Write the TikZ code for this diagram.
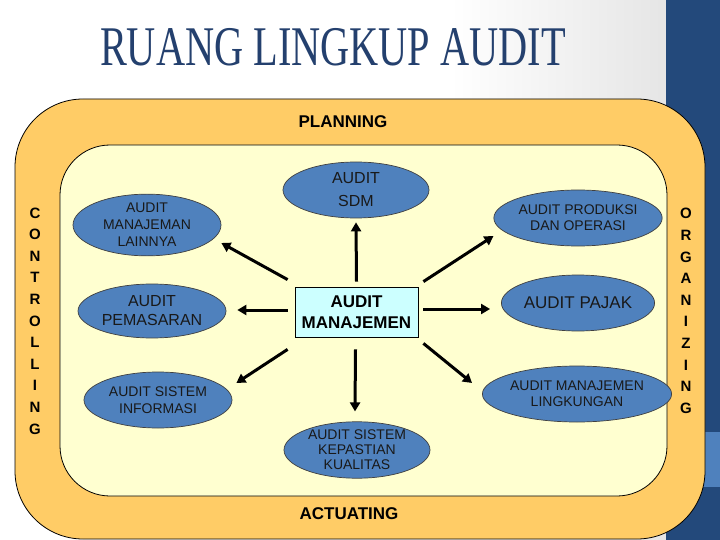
\documentclass[tikz,border=0pt]{standalone}
\usepackage{fontspec}
\usepackage{graphicx}
\setmainfont{Liberation Sans}
\newfontfamily\titlefont{Liberation Serif}
\usetikzlibrary{shapes.geometric,arrows.meta,calc}
\definecolor{outerc}{RGB}{255,204,102}
\definecolor{innerc}{RGB}{255,255,208}
\definecolor{ellc}{RGB}{79,129,189}
\definecolor{boxc}{RGB}{204,255,255}
\definecolor{barc}{RGB}{35,73,123}
\definecolor{bandc}{RGB}{79,129,189}
\definecolor{titlec}{RGB}{36,64,110}
\tikzset{
  oval/.style={ellipse, draw=black!75, line width=0.7pt, fill=ellc, inner sep=0pt,
    minimum width=148pt, minimum height=56pt, align=center, text=black!90},
  arr/.style={line width=3pt, -{Triangle[length=9pt,width=10pt]}},
  side/.style={font=\bfseries\fontsize{15}{21.6}\selectfont, align=center},
  stage/.style={font=\bfseries\fontsize{17}{17}\selectfont}
}
\begin{document}
\begin{tikzpicture}[x=1pt,y=-1pt]
\useasboundingbox (0,0) rectangle (720,540);
% background
\fill[white] (0,0) rectangle (450,540);
\shade[left color=white,right color=black!10] (450,0) rectangle (666,540);
\fill[barc] (666,0) rectangle (720,540);
\fill[bandc] (666,432) rectangle (720,487);
% title
\node[font=\titlefont\fontsize{56}{56}\selectfont, text=titlec, inner sep=0pt] (title) at (333,47) {\scalebox{0.72}[1]{RUANG LINGKUP AUDIT}};
% frames
\draw[fill=outerc, line width=0.8pt, rounded corners=68pt] (15,99) rectangle (705,539);
\draw[fill=innerc, line width=0.8pt, rounded corners=50pt] (60,145) rectangle (667,496);
% labels
\node[stage] (plan) at (343,122) {PLANNING};
\node[stage] (act) at (349,514) {ACTUATING};
\node[side] (ctrl) at (35,321) {C\\O\\N\\T\\R\\O\\L\\L\\I\\N\\G};
\node[side] (org) at (686,311) {O\\R\\G\\A\\N\\I\\Z\\I\\N\\G};
% center box
\node[draw=black, line width=0.8pt, fill=boxc, minimum width=123pt, minimum height=50pt, inner sep=0pt,
  align=center, font=\bfseries\fontsize{17}{21}\selectfont] (box) at (356.5,312) {AUDIT\\MANAJEMEN};
% ellipses
\node[oval, minimum width=146pt, font=\fontsize{16}{23}\selectfont] (sdm) at (356,190) {AUDIT\\SDM};
\node[oval, font=\fontsize{14}{17}\selectfont] (lainnya) at (147,225) {AUDIT\\MANAJEMAN\\LAINNYA};
\node[oval, minimum height=54pt, font=\fontsize{16}{19}\selectfont] (pemasaran) at (152,311) {AUDIT\\PEMASARAN};
\node[oval, font=\fontsize{14}{16}\selectfont] (produksi) at (578,218) {AUDIT PRODUKSI\\DAN OPERASI};
\node[oval, font=\fontsize{17}{17}\selectfont] (pajak) at (578,303) {AUDIT PAJAK};
\node[oval, font=\fontsize{14}{17}\selectfont] (informasi) at (158,400) {AUDIT SISTEM\\INFORMASI};
\node[oval, minimum width=146pt, font=\fontsize{14}{15}\selectfont] (kualitas) at (357,450) {AUDIT SISTEM\\KEPASTIAN\\KUALITAS};
\node[oval, font=\fontsize{14}{16}\selectfont] (lingkungan) at (577,394) {AUDIT MANAJEMEN\\LINGKUNGAN};
% arrows
\draw[arr] ($(box.north)+(0,-5)$) -- ($(sdm.south)+(0,4)$);
\draw[arr] ($(box.north west)+(-7,-7)$) -- ($(lainnya.east)+(0,18)$);
\draw[arr] ($(box.west)+(-7,-2)$) -- ($(pemasaran.east)+(11,-1)$);
\draw[arr] ($(box.north east)+(5,-5)$) -- ($(produksi.west)+(0,18)$);
\draw[arr] ($(box.east)+(5,-3)$) -- ($(pajak.west)+(-11,6)$);
\draw[arr] ($(box.south west)+(-7,12)$) -- ($(informasi.east)+(4,-17)$);
\draw[arr] ($(box.south)+(-1,12)$) -- ($(kualitas.north)+(-2,-10)$);
\draw[arr] ($(box.south east)+(5,6)$) -- ($(lingkungan.west)+(-10,-11)$);
\end{tikzpicture}
\end{document}
